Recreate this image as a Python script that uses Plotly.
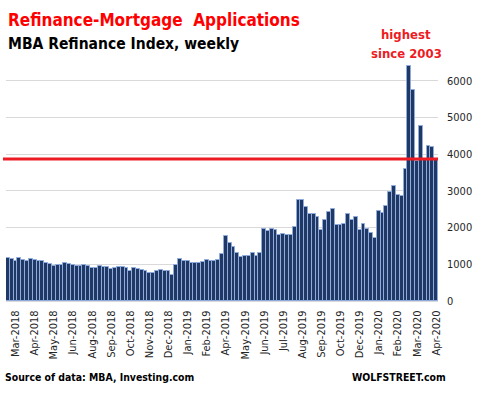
import plotly.graph_objects as go

# Weekly MBA Refinance Index values, oldest first
values = [
    1172, 1144, 1081, 1172, 1117, 1081, 1144, 1117, 1081, 1081,
    1035, 1000, 945, 972, 972, 1035, 1000, 972, 945,
    963, 981, 945, 890, 890, 954, 917, 917, 863, 890,
    917, 917, 890, 808, 890, 863, 836, 808,
    760, 760, 809, 836, 809, 809, 709, 973, 1145, 1082,
    1082, 1027, 1027, 1027, 1064, 1109, 1082, 1082, 1109, 1273, 1770,
    1569, 1459, 1294, 1211, 1239, 1239, 1321, 1239, 1321, 1954,
    1899, 1954, 1927, 1789, 1817, 1789, 1789, 2009, 2743, 2743,
    2560, 2367, 2367, 2284, 1927, 2202, 2422, 2505, 2064, 2064,
    2092, 2367, 2202, 2284, 1927, 2092, 1954, 1844, 1706,
    2438, 2384, 2575, 2959, 3123, 2886, 2849, 3589, 6411, 5753,
    3808, 4767, 3830, 4219, 4192, 3830,
]
weeks = list(range(len(values)))

# Category-axis labels (every 5th week, ending at the last week)
tick_labels = [
    "Mar-2018", "Apr-2018", "May-2018", "Jun-2018", "Aug-2018", "Sep-2018",
    "Oct-2018", "Nov-2018", "Dec-2018", "Jan-2019", "Feb-2019", "Apr-2019",
    "May-2019", "Jun-2019", "Jul-2019", "Aug-2019", "Sep-2019", "Oct-2019",
    "Dec-2019", "Jan-2020", "Feb-2020", "Mar-2020", "Apr-2020",
]
label_step = 5
tick_weeks = [len(values) - 1 - label_step * (len(tick_labels) - 1 - i)
              for i in range(len(tick_labels))]

reference_level = 3865
y_ticks = [0, 1000, 2000, 3000, 4000, 5000, 6000]

FONT = "DejaVu Sans Condensed, DejaVu Sans, sans-serif"

fig = go.Figure()
fig.add_trace(go.Bar(
    x=weeks, y=values,
    marker=dict(color="#1F3864", line=dict(color="#8FAADC", width=1)),
    hoverinfo="skip",
))

fig.update_layout(
    width=481, height=395,
    margin=dict(l=6, r=43, t=44, b=94),
    paper_bgcolor="white", plot_bgcolor="white",
    bargap=0,
    showlegend=False,
    font=dict(family=FONT, color="#404040", size=11),
    xaxis=dict(
        range=[-0.5, len(values) - 0.5],
        tickmode="array", tickvals=tick_weeks, ticktext=tick_labels,
        tickangle=-90, showgrid=False, zeroline=False,
        showline=True, linecolor="#D9D9D9", linewidth=1,
        ticks="", ticklabelstandoff=4,
        tickfont=dict(family=FONT, size=11, color="#262626"),
        fixedrange=True,
    ),
    yaxis=dict(
        side="right", range=[0, 7000],
        tickmode="array", tickvals=y_ticks,
        showgrid=True, gridcolor="#D9D9D9", gridwidth=1,
        zeroline=False, showline=False, ticks="",
        ticklabelstandoff=8,
        tickfont=dict(family=FONT, size=11, color="#262626"),
        fixedrange=True,
    ),
)

fig.add_shape(type="line", xref="paper", yref="y",
              x0=-0.007, x1=1.0, y0=reference_level, y1=reference_level,
              line=dict(color="#ED1C24", width=3))

def px_x(px):
    return (px - 6) / 432

def px_y(py):
    return (301 - py) / 257

annotations = [
    dict(text="<b>Refinance-Mortgage  Applications</b>", x=px_x(6), y=px_y(20),
         xanchor="left", yanchor="middle",
         font=dict(family=FONT, size=17, color="#FF0000")),
    dict(text="<b>MBA Refinance Index, weekly</b>", x=px_x(6), y=px_y(44),
         xanchor="left", yanchor="middle",
         font=dict(family=FONT, size=15.5, color="#000000")),
    dict(text="<b>highest</b>", x=px_x(406), y=px_y(35),
         xanchor="center", yanchor="middle",
         font=dict(family=FONT, size=13, color="#ED1C24")),
    dict(text="<b>since 2003</b>", x=px_x(406), y=px_y(53),
         xanchor="center", yanchor="middle",
         font=dict(family=FONT, size=13, color="#ED1C24")),
    dict(text="<b>Source of data: MBA, Investing.com</b>", x=px_x(3), y=px_y(377),
         xanchor="left", yanchor="middle",
         font=dict(family=FONT, size=10.4, color="#000000")),
    dict(text="<b>WOLFSTREET.com</b>", x=px_x(448), y=px_y(377),
         xanchor="right", yanchor="middle",
         font=dict(family=FONT, size=10.4, color="#000000")),
]
for a in annotations:
    a.update(xref="paper", yref="paper", showarrow=False)
    fig.add_annotation(**a)

fig.write_html("out.html", config={"displayModeBar": False},
               post_script="document.body.style.margin='0';")
